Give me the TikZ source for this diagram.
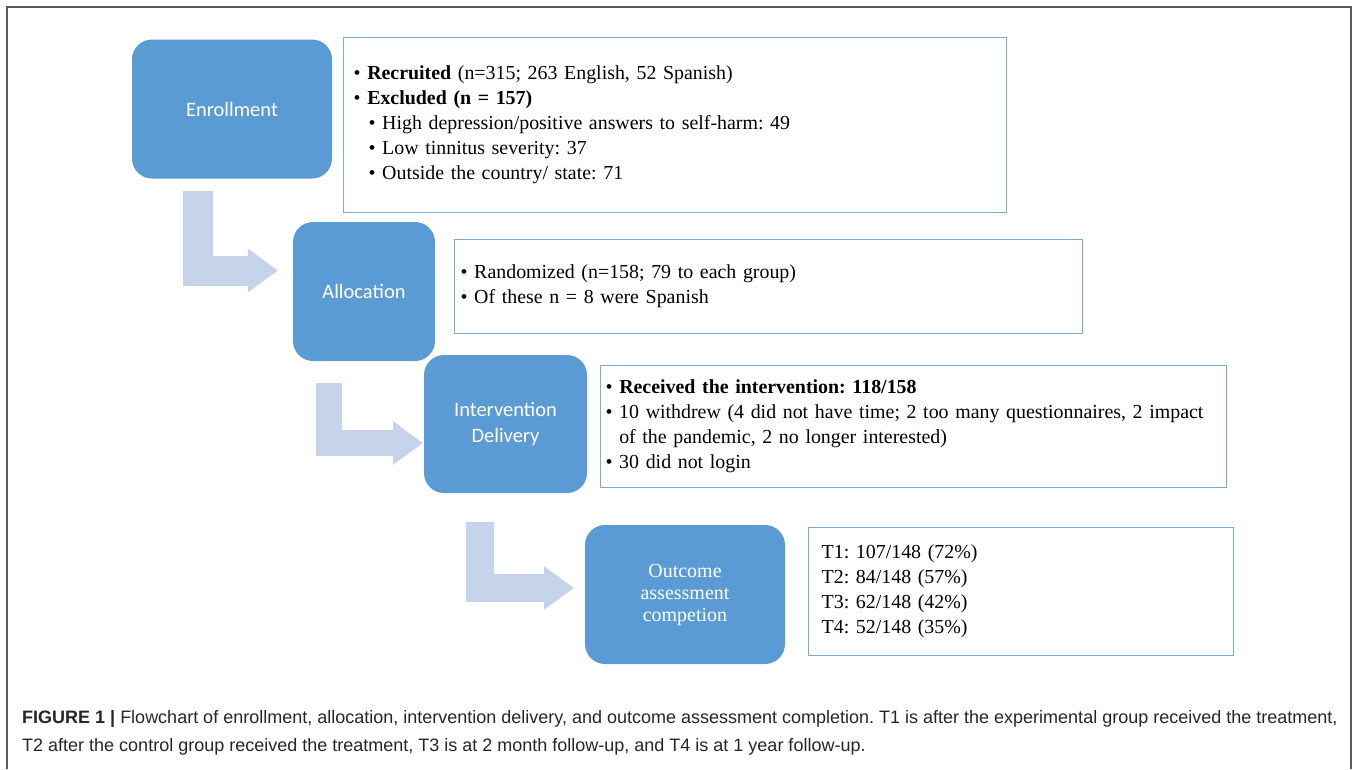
\documentclass[tikz,border=0pt]{standalone}
\usepackage{fontspec}
\setmainfont{Liberation Serif}
\newfontfamily\calibri{Carlito}
\newfontfamily\capfont{Liberation Sans}
\usetikzlibrary{positioning,arrows.meta}
\definecolor{boxblue}{RGB}{91,155,213}
\definecolor{arrowblue}{RGB}{197,212,234}
\definecolor{lineblue}{RGB}{125,170,218}
\definecolor{framegray}{RGB}{90,90,90}
\frenchspacing

\begin{document}
\begin{tikzpicture}[
		x=1pt, y=-1pt,
		stage/.style={fill=boxblue, rounded corners=20pt, text=white, align=center, inner sep=0pt, font=\calibri\fontsize{20.5}{26}\selectfont},
		info/.style={draw=lineblue, line width=1.3pt, anchor=north west, align=left, inner ysep=0pt, font=\fontsize{19.9}{25}\selectfont},
		flow/.style={draw=arrowblue, line width=28pt, line join=miter, -{Triangle[length=30pt,width=44pt,line width=0pt]}}
		]
		
		\useasboundingbox (0,0) rectangle (1357,769);
		\draw[framegray, line width=1.3pt] (7,769) -- (7,7) -- (1351,7) -- (1351,769);
		
		\node[stage, minimum width=200pt, minimum height=139pt] (enroll) at (232,109) {Enrollment};
		\node[stage, minimum width=142pt, minimum height=139pt] (alloc) at (364,291.5) {Allocation};
		\node[stage, minimum width=163pt, minimum height=138pt] (deliv) at (505.5,424) {Intervention\\Delivery};
		\node[stage, minimum width=200pt, minimum height=139pt, font=\fontsize{20}{22}\selectfont] (outcome) at (685,594.5) {Outcome\\assessment\\competion};
		
		\node[info, inner xsep=10pt, text width=643pt, minimum height=175pt] (recruit) at (343,37) {%
			\textbullet\ \textbf{Recruited} (n=315; 263 English, 52 Spanish)\\
			\textbullet\ \textbf{Excluded (n = 157)}\\
			\hspace*{15pt}\textbullet\ High depression/positive answers to self-harm: 49\\
			\hspace*{15pt}\textbullet\ Low tinnitus severity: 37\\
			\hspace*{15pt}\textbullet\ Outside the country/ state: 71};
		\node[info, inner xsep=6pt, text width=616pt, minimum height=94pt] (random) at (454,239) {%
			\textbullet\ Randomized (n=158; 79 to each group)\\
			\textbullet\ Of these n = 8 were Spanish};
		\node[info, inner xsep=5pt, text width=616pt, minimum height=122pt] (receive) at (600,365) {%
			\textbullet\ \textbf{Received the intervention: 118/158}\\
			\textbullet\ 10 withdrew (4 did not have time; 2 too many questionnaires, 2 impact\\
			\phantom{\textbullet\ }of the pandemic, 2 no longer interested)\\
			\textbullet\ 30 did not login};
		\node[info, inner xsep=13pt, text width=399pt, minimum height=128pt] (times) at (808,527) {%
			T1: 107/148 (72\%)\\
			T2: 84/148 (57\%)\\
			T3: 62/148 (42\%)\\
			T4: 52/148 (35\%)};
		
		\draw[flow, line width=30pt] ([xshift=-34pt,yshift=-12.5pt]enroll.south) |- ([xshift=-15pt,yshift=21pt]alloc.west);
		\draw[flow, line width=26pt] ([xshift=-35.5pt,yshift=-22pt]alloc.south) |- ([xshift=-1pt,yshift=-19pt]deliv.west);
		\draw[flow] ([xshift=-26pt,yshift=-29pt]deliv.south) |- ([xshift=-11pt,yshift=6.5pt]outcome.west);
		
		\node[anchor=north west, align=left, inner sep=0pt, text=black!85, font=\capfont\fontsize{18}{28}\selectfont] (caption) at (22,710) {%
			\textbf{FIGURE 1 |} Flowchart of enrollment, allocation, intervention delivery, and outcome assessment completion. T1 is after the experimental group received the treatment,\\
			T2 after the control group received the treatment, T3 is at 2 month follow-up, and T4 is at 1 year follow-up.};
		
	\end{tikzpicture}
\end{document}
